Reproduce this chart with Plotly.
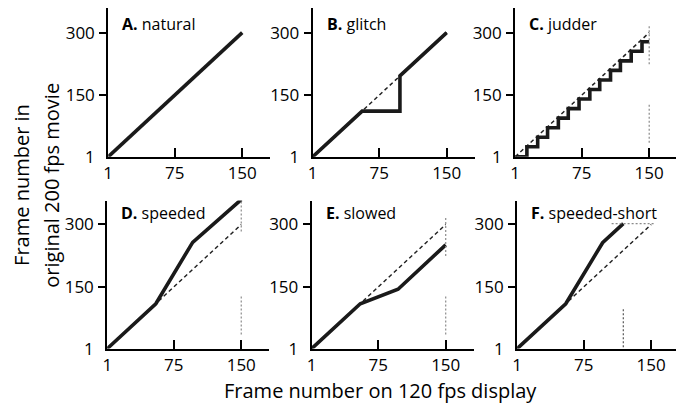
import plotly.graph_objects as go

# ---------------- data ----------------
ideal_x = [1, 150]
ideal_y = [1, 300]

natural_x = [1, 150]
natural_y = [1, 300]

glitch_x = [1, 56, 98, 98, 150]
glitch_y = [1, 111, 111, 196, 300]

judder_x = [1, 14, 26, 37, 49, 60, 72, 84, 95, 107, 118, 130, 142, 150]
judder_y = [1, 25, 48, 71, 94, 117, 140, 163, 186, 209, 232, 255, 278, 278]

speeded_x = [1, 55, 96, 150]
speeded_y = [1, 109, 257, 360]

slowed_x = [1, 55, 97, 150]
slowed_y = [1, 109, 144, 251]

short_x = [1, 55, 96, 119]
short_y = [1, 109, 256, 302]

# grey dotted guide marks
c_upper_y = [224, 318]
d_upper_y = [283, 377]
e_upper_y = [224, 318]
lower_y = [35, 128]
guide_x = [150, 150]
f_vert_x = [119, 119]
f_vert_y = [4, 98]
f_horiz_x = [106, 154]
f_horiz_y = [302, 302]

panel_letters = ["A.", "B.", "C.", "D.", "E.", "F."]
panel_names = ["natural", "glitch", "judder", "speeded", "slowed", "speeded-short"]

x_ticks = [1, 75, 150]
y_ticks = [1, 150, 300]
x_ticklabels = ["1", "75", "150"]
y_ticklabels = ["1", "150", "300"]

# ---------------- layout geometry (pixels) ----------------
W, H = 676, 420
FONT = "Open Sans"
col_left = [[104, 267], [310, 473], [514, 676]]
col_left_bottom = [[103, 266], [309, 472], [516, 676]]
row_top = [161, 8]      # x-axis pixel y, top pixel y
row_bottom = [358, 206]
PX_PER_X = 0.906

fig = go.Figure()

solid = dict(color="#1a1a1a", width=3.6)
dashed = dict(color="#222222", width=1.5, dash="4px,3px")
dotted = dict(color="#8a8a8a", width=1.2, dash="2px,2px")
dotted_dark = dict(color="#555555", width=1.2, dash="2px,2px")


def add(i, x, y, line, shape="linear"):
    ax = "" if i == 0 else str(i + 1)
    fig.add_trace(go.Scatter(x=x, y=y, mode="lines", line=dict(**line, shape=shape),
                             xaxis="x" + ax, yaxis="y" + ax, showlegend=False,
                             hoverinfo="skip"))


# A
add(0, natural_x, natural_y, solid)
# B
add(1, ideal_x, ideal_y, dashed)
add(1, glitch_x, glitch_y, solid)
# C
add(2, ideal_x, ideal_y, dashed)
add(2, judder_x, judder_y, solid, shape="hv")
add(2, guide_x, c_upper_y, dotted)
add(2, guide_x, lower_y, dotted)
# D
add(3, ideal_x, ideal_y, dashed)
add(3, speeded_x, speeded_y, solid)
add(3, guide_x, d_upper_y, dotted)
add(3, guide_x, lower_y, dotted)
# E
add(4, ideal_x, ideal_y, dashed)
add(4, slowed_x, slowed_y, solid)
add(4, guide_x, e_upper_y, dotted)
add(4, guide_x, lower_y, dotted)
# F
add(5, ideal_x, ideal_y, dashed)
add(5, short_x, short_y, solid)
add(5, f_vert_x, f_vert_y, dotted_dark)
add(5, f_horiz_x, f_horiz_y, dotted)

layout = dict(
    width=W, height=H,
    margin=dict(l=0, r=0, t=0, b=0),
    paper_bgcolor="white", plot_bgcolor="white",
    font=dict(family=FONT, color="black"),
    showlegend=False,
)

annotations = []
for i in range(6):
    r = 0 if i < 3 else 1
    c = i % 3
    xs = col_left[c] if r == 0 else col_left_bottom[c]
    rows = row_top if r == 0 else row_bottom
    xdom = [xs[0] / W, min(xs[1] / W, 1.0)]
    ydom = [1 - rows[0] / H, 1 - rows[1] / H]
    xmax = 1 + (xs[1] - xs[0]) / PX_PER_X
    ymax = 1 + (rows[0] - rows[1]) / (127.5 / 299)
    ax = "" if i == 0 else str(i + 1)
    layout["xaxis" + ax] = dict(
        domain=xdom, anchor="y" + ax, range=[1, xmax],
        showline=True, linecolor="black", linewidth=2,
        showgrid=False, zeroline=False,
        tickmode="array", tickvals=x_ticks, ticktext=x_ticklabels,
        ticks="inside", ticklen=9, tickwidth=2, tickcolor="black",
        tickfont=dict(family=FONT, size=17, color="black"),
        ticklabelstandoff=0,
        fixedrange=True,
    )
    layout["yaxis" + ax] = dict(
        domain=ydom, anchor="x" + ax, range=[1, ymax],
        showline=True, linecolor="black", linewidth=2,
        showgrid=False, zeroline=False,
        tickmode="array", tickvals=y_ticks, ticktext=y_ticklabels,
        ticks="", ticklabelstandoff=8,
        minor=dict(tickmode="array", tickvals=y_ticks[1:], ticks="outside",
                   ticklen=7, tickwidth=2, tickcolor="black", showgrid=False),
        tickfont=dict(family=FONT, size=17, color="black"),
        fixedrange=True,
    )
    ty = 25 if r == 0 else 219
    annotations.append(dict(
        xref="paper", yref="paper",
        x=(xs[0] + 12) / W, y=1 - ty / H, xanchor="left", yanchor="middle",
        text="<b>" + panel_letters[i] + "</b> " + panel_names[i],
        showarrow=False, font=dict(family=FONT, size=16, color="black"),
    ))

annotations.append(dict(
    xref="paper", yref="paper", x=378 / W, y=1 - 401 / H, borderpad=0,
    xanchor="center", yanchor="middle", text="Frame number on 120 fps display",
    showarrow=False, font=dict(family=FONT, size=20, color="black")))
annotations.append(dict(
    xref="paper", yref="paper", x=16 / W, y=1 - 190 / H,
    xanchor="center", yanchor="middle", text="Frame number in", textangle=-90,
    showarrow=False, font=dict(family=FONT, size=20, color="black")))
annotations.append(dict(
    xref="paper", yref="paper", x=46 / W, y=1 - 190 / H,
    xanchor="center", yanchor="middle", text="original 200 fps movie", textangle=-90,
    showarrow=False, font=dict(family=FONT, size=20, color="black")))

layout["annotations"] = annotations
fig.update_layout(**layout)
fig.write_html("out.html", post_script="document.body.style.margin='0';",
               config={"displayModeBar": False})
